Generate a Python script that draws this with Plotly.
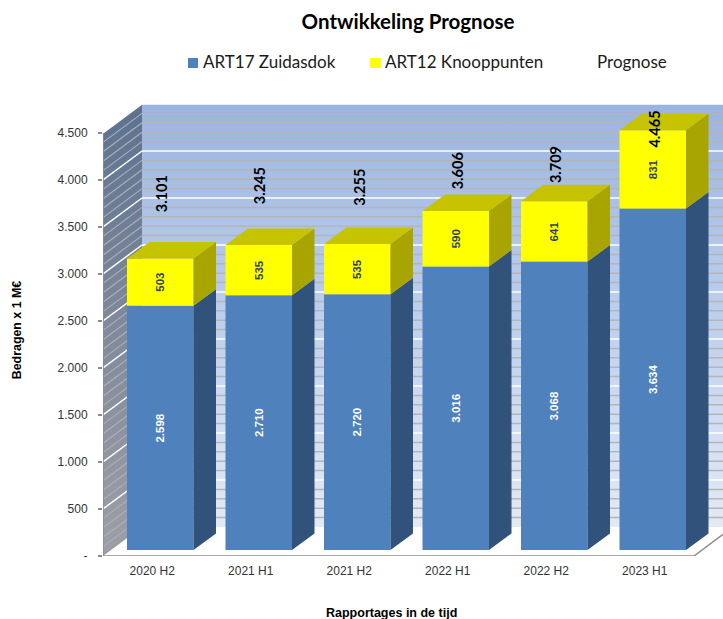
import plotly.graph_objects as go

categories = ["2020 H2", "2021 H1", "2021 H2", "2022 H1", "2022 H2", "2023 H1"]
zuidasdok = [2598, 2710, 2720, 3016, 3068, 3634]
knooppunten = [503, 535, 535, 590, 641, 831]
prognose = [3101, 3245, 3255, 3606, 3709, 4465]
y_ticks = list(range(0, 5000, 500))

W, H = 723, 619

# pixel scale of the oblique projection
PX_CAT, PX_VAL = 98.5, 0.094
LEFT, RIGHT, TOP, BOTTOM = 103, 723, 104, 556
px = lambda x: (x - LEFT) / (RIGHT - LEFT)
py = lambda y: (BOTTOM - y) / (BOTTOM - TOP)
WALL_DX, WALL_DY = 39 / PX_CAT, 29 / PX_VAL
BAR_SHIFT_X, BAR_SHIFT_Y = 8 / PX_CAT, 6 / PX_VAL
BAR_W = 66.5 / PX_CAT
DEPTH_X, DEPTH_Y = 22.5 / PX_CAT, 16.5 / PX_VAL
X0 = -0.5
X1 = X0 + (RIGHT - LEFT) / PX_CAT
XF = X0 + len(categories)
YMAX = (BOTTOM - TOP) / PX_VAL
LABEL_LIFT = [66, 60, 58, 41, 38, 2]

fmt = lambda v: f"{v:,}".replace(",", ".")
fig = go.Figure()


def poly(xs, ys, color=None, gradient=None, xa="x", ya="y"):
    kw = dict(fillgradient=gradient) if gradient else dict(fillcolor=color)
    fig.add_trace(go.Scatter(x=xs, y=ys, mode="lines", fill="toself", line=dict(width=0),
                             hoverinfo="skip", showlegend=False, xaxis=xa, yaxis=ya, **kw))


def line(xs, ys, color, width):
    fig.add_trace(go.Scatter(x=xs, y=ys, mode="lines", line=dict(color=color, width=width),
                             hoverinfo="skip", showlegend=False, cliponaxis=False))


top_v = y_ticks[-1]
# back wall and side wall
poly([X0 + WALL_DX, X1, X1, X0 + WALL_DX], [WALL_DY, WALL_DY, YMAX, YMAX],
     gradient=dict(type="vertical", colorscale=[[0, "#E3EAF6"], [0.5, "#BDCFEE"], [1, "#9BB4DF"]]))
poly([X0, X0 + WALL_DX, X0 + WALL_DX, X0], [0, WALL_DY, YMAX, top_v],
     gradient=dict(type="vertical", colorscale=[[0, "#9D9FA6"], [0.5, "#808A9C"], [1, "#5C7290"]]))

# gridlines on both walls
for v in range(100, top_v + 1, 100):
    major = v % 500 == 0
    line([X0 + WALL_DX, X1], [v + WALL_DY, v + WALL_DY], "#FFFFFF" if major else "#B5B5B3", 1.5)
    line([X0, X0 + WALL_DX], [v, v + WALL_DY], "#FFFFFF" if major else "#AEB0B6", 1.5 if major else 1.1)

# axis frame
line([X0, X0], [0, top_v], "#8C8C8C", 1.5)
line([X0, XF], [0, 0], "#8C8C8C", 1.5)
line([XF, X1], [0, (X1 - XF) * WALL_DY / WALL_DX], "#8C8C8C", 1.5)

idx = list(range(len(categories)))
fig.add_trace(go.Bar(x=idx, y=zuidasdok, name="ART17 Zuidasdok", width=BAR_W, marker=dict(color="#4F81BD", line=dict(width=0)),
                     text=[fmt(v) for v in zuidasdok], textposition="inside", textangle=-90, insidetextanchor="middle",
                     constraintext="none", textfont=dict(family="Liberation Sans", size=11.5, color="#FFFFFF", weight="bold"),
                     xaxis="x2", yaxis="y2", showlegend=False))
fig.add_trace(go.Bar(x=idx, y=knooppunten, base=zuidasdok, name="ART12 Knooppunten", width=BAR_W, marker=dict(color="#FFFF00", line=dict(width=0)),
                     text=[fmt(v) for v in knooppunten], textposition="inside", textangle=-90, insidetextanchor="middle",
                     constraintext="none", textfont=dict(family="Liberation Sans", size=11.5, color="#2F4358", weight="bold"),
                     xaxis="x2", yaxis="y2", showlegend=False))

# depth faces
for i, (a, b) in enumerate(zip(zuidasdok, knooppunten)):
    r = i + BAR_W / 2
    l = i - BAR_W / 2
    poly([r, r + DEPTH_X, r + DEPTH_X, r], [0, DEPTH_Y, a + DEPTH_Y, a], "#31527B", xa="x2", ya="y2")
    poly([r, r + DEPTH_X, r + DEPTH_X, r], [a, a + DEPTH_Y, a + b + DEPTH_Y, a + b], "#A9A500", xa="x2", ya="y2")
    poly([l, r, r + DEPTH_X, l + DEPTH_X], [a + b, a + b, a + b + DEPTH_Y, a + b + DEPTH_Y], "#C6C300", xa="x2", ya="y2")

annotations = [
    dict(x=i, y=t, xref="x2", yref="y2", yshift=LABEL_LIFT[i] - 1, xshift=1.5, text=fmt(t), textangle=-90, showarrow=False,
         font=dict(family="Lato", size=14.5, color="#000000", weight="bold"))
    for i, t in enumerate(prognose)
]
# legend and axis title
for txt, x in (("ART17 Zuidasdok", 203), ("ART12 Knooppunten", 385), ("Prognose", 597)):
    annotations.append(dict(x=px(x), y=py(62), xref="paper", yref="paper", xanchor="left", yanchor="middle",
                            text=txt, showarrow=False, borderpad=0, xshift=-1,
                            font=dict(family="Lato", size=17, color="#1A1A1A")))
annotations.append(dict(x=px(391), y=py(612.5), xref="paper", yref="paper", yanchor="middle", text="Rapportages in de tijd", showarrow=False,
                        font=dict(family="Liberation Sans", size=12.5, color="#000000", weight="bold")))

shapes = [
    dict(type="rect", xref="paper", yref="paper", x0=px(188), x1=px(198), y0=py(68), y1=py(58), fillcolor="#4F81BD", line=dict(width=0)),
    dict(type="rect", xref="paper", yref="paper", x0=px(370), x1=px(381), y0=py(68), y1=py(58), fillcolor="#FFFF00", line=dict(width=0)),
]

fig.update_layout(
    width=W, height=H, autosize=False,
    margin=dict(l=LEFT, r=W - RIGHT, t=TOP, b=H - BOTTOM),
    paper_bgcolor="#FFFFFF", plot_bgcolor="#FFFFFF",
    barmode="overlay", showlegend=False,
    title=dict(text="Ontwikkeling Prognose", x=408 / W, xanchor="center", xref="container", y=1 - 22 / H, yanchor="middle", yref="container",
               font=dict(family="Lato", size=20.5, color="#000000", weight="bold")),
    xaxis=dict(range=[X0, X1], tickmode="array", tickvals=idx, ticktext=categories, showgrid=False, zeroline=False, showline=False,
               ticks="", ticklabelstandoff=6, tickfont=dict(family="Liberation Sans", size=12, color="#333333")),
    yaxis=dict(range=[0, YMAX], tickmode="array", tickvals=y_ticks, ticktext=["-"] + [fmt(v) for v in y_ticks[1:]],
               showgrid=False, zeroline=False, showline=False, ticks="outside", ticklen=4, tickcolor="#8C8C8C", tickwidth=1.5,
               ticklabelstandoff=8, tickfont=dict(family="Liberation Sans", size=12, color="#333333"),
               title=dict(text="Bedragen x 1 M€", standoff=33, font=dict(family="Liberation Sans", size=12.4, color="#000000", weight="bold"))),
    xaxis2=dict(range=[X0 - BAR_SHIFT_X, X1 - BAR_SHIFT_X], overlaying="x", visible=False),
    yaxis2=dict(range=[-BAR_SHIFT_Y, YMAX - BAR_SHIFT_Y], overlaying="y", visible=False),
    annotations=annotations, shapes=shapes,
)

fig.write_html("out.html", config={"displayModeBar": False},
               post_script="document.body.style.margin='0';document.documentElement.style.overflow='hidden';")
